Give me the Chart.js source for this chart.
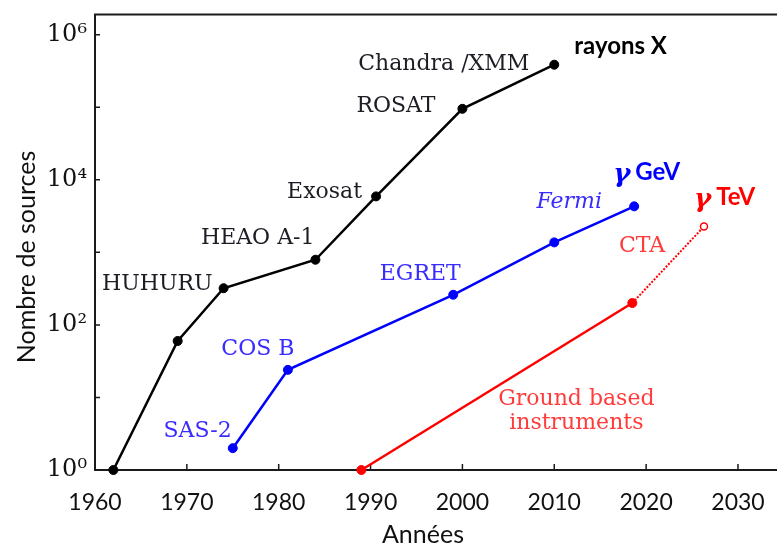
<!DOCTYPE html>
<html>
<head>
<meta charset="utf-8">
<script src="https://cdn.jsdelivr.net/npm/chart.js@4"></script>
<style>
	html, body { margin: 0; padding: 0; background: #fff; overflow: hidden; }
	#wrap { width: 800px; height: 544px; }
</style>
</head>
<body>
<div id="wrap"><canvas id="chart" width="800" height="544"></canvas></div>
<script>
// Nombre de sources connues par année (échelle log)
const xrayYears = [1962, 1969, 1974, 1984, 1990.6, 2000, 2010];
const xraySources = [1, 60, 320, 790, 5900, 95000, 385000];
const xrayNames = ["", "", "HUHURU", "HEAO A-1", "Exosat", "ROSAT", "Chandra /XMM"];

const gevYears = [1975, 1981, 1999, 2010, 2018.7];
const gevSources = [2, 24, 260, 1370, 4300];
const gevNames = ["SAS-2", "COS B", "EGRET", "Fermi", ""];

const tevYears = [1989, 2018.5, 2026.3];
const tevSources = [1, 200, 2270];
const tevNames = ["", "Ground based|instruments", "CTA"];

const seriesTitles = ["rayons X", "GeV", "TeV"];
const yearTicks = [1960, 1970, 1980, 1990, 2000, 2010, 2020, 2030];
const decadeTicks = [1, 10, 100, 1000, 10000, 100000, 1000000];

const SUP = { 0: "⁰", 2: "²", 4: "⁴", 6: "⁶" };
const SERIF = "'DejaVu Serif', 'Liberation Serif', serif";
const SANS = "Lato, 'Open Sans', sans-serif";

// label placement relative to each point: [dx, dy, align, italic]
const black = "#1d1d26";
const blueTxt = "#3a2cff";
const redTxt = "#ff3b3b";
const labelStyle = [
	[null, null, [-11, -4, "right"], [-1, -21, "right"], [-14, -4, "right"], [-27, -3, "right"], [-25, 0, "right"]],
	[[-1, -17, "right"], [-30, -21, "center"], [-33, -20, "center"], [15, -40, "center", true], null],
	[null, [-56, 96, "center"], [-62, 20, "center"]],
];
const labelColors = [black, blueTxt, redTxt];
const titleStyle = [
	[20, -18, "#000"],
	[-21, -34, "#0000ff"],
	[-10, -29, "#ff0000"],
];

const pts = (xs, ys) => xs.map((x, i) => ({ x, y: ys[i] }));

const frame = {
	id: "frame",
	beforeDatasetsDraw(chart) {
		const { ctx, chartArea: a, scales } = chart;
		ctx.save();
		ctx.strokeStyle = "#1a1a1a";
		ctx.lineWidth = 2;
		ctx.beginPath();
		ctx.moveTo(a.right + 5, a.top);
		ctx.lineTo(a.left, a.top);
		ctx.lineTo(a.left, a.bottom);
		ctx.lineTo(a.right + 5, a.bottom);
		ctx.stroke();
		ctx.lineWidth = 1.5;
		ctx.beginPath();
		decadeTicks.forEach((v) => {
			const py = scales.y.getPixelForValue(v);
			ctx.moveTo(a.left, py);
			ctx.lineTo(a.left + 5, py);
		});
		yearTicks.forEach((v) => {
			const px = scales.x.getPixelForValue(v);
			ctx.moveTo(px, a.bottom);
			ctx.lineTo(px, a.bottom - 6);
		});
		ctx.stroke();

		ctx.fillStyle = "#111";
		ctx.font = "25px " + SANS;
		ctx.textAlign = "center";
		ctx.textBaseline = "middle";
		ctx.fillText("Années", 423, 535);
		ctx.translate(27, 257);
		ctx.rotate(-Math.PI / 2);
		ctx.fillText("Nombre de sources", 0, 0);
		ctx.restore();
	},
	afterDatasetsDraw(chart) {
		const { ctx } = chart;
		ctx.save();
		ctx.textBaseline = "middle";
		chart.data.datasets.forEach((ds, di) => {
			const meta = chart.getDatasetMeta(di);
			ds.names.forEach((name, i) => {
				const st = labelStyle[di][i];
				if (!name || !st) return;
				const p = meta.data[i];
				ctx.fillStyle = labelColors[di];
				ctx.textAlign = st[2];
				ctx.font = (st[3] ? "italic " : "") + "22px " + SERIF;
				name.split("|").forEach((line, k) => {
					ctx.fillText(line, p.x + st[0], p.y + st[1] + k * 24);
				});
			});
			const last = meta.data[meta.data.length - 1];
			const [dx, dy, col] = titleStyle[di];
			ctx.fillStyle = col;
			ctx.textAlign = "left";
			let x0 = last.x + dx;
			if (di > 0) {
				ctx.font = "italic bold 26px " + SERIF;
				ctx.fillText("γ", x0, last.y + dy + 3);
				x0 += ctx.measureText("γ").width + 5;
			}
			ctx.font = "bold 24px " + SANS;
			ctx.fillText(seriesTitles[di], x0, last.y + dy);
		});
		ctx.restore();
	},
};

new Chart(document.getElementById("chart"), {
	type: "line",
	data: {
		datasets: [
			{
				data: pts(xrayYears, xraySources),
				names: xrayNames,
				borderColor: "#000",
				backgroundColor: "#000",
				pointBackgroundColor: "#000",
			},
			{
				data: pts(gevYears, gevSources),
				names: gevNames,
				borderColor: "#0000ff",
				backgroundColor: "#0000ff",
				pointBackgroundColor: "#0000ff",
			},
			{
				data: pts(tevYears, tevSources),
				names: tevNames,
				borderColor: "#ff0000",
				backgroundColor: "#ff0000",
				pointBackgroundColor: ["#ff0000", "#ff0000", "#fff"],
				pointRadius: [4.5, 4.5, 3.5],
				pointBorderWidth: [1, 1, 1.5],
				segment: {
					borderDash: (c) => (c.p1DataIndex === 2 ? [2, 1.5] : undefined),
					borderWidth: (c) => (c.p1DataIndex === 2 ? 2 : undefined),
				},
			},
		],
	},
	options: {
		responsive: false,
		animation: false,
		layout: { padding: { top: 12, left: 0, right: 0, bottom: 0 } },
		elements: {
			line: { borderWidth: 2.5, tension: 0 },
			point: { radius: 4.5, borderWidth: 1, hoverRadius: 4.5 },
		},
		datasets: { line: { clip: false } },
		plugins: { legend: { display: false }, tooltip: { enabled: false } },
		scales: {
			x: {
				type: "linear",
				min: 1960,
				max: 2036.1,
				grid: { display: false },
				border: { display: false },
				afterBuildTicks: (s) => { s.ticks = yearTicks.map((v) => ({ value: v })); },
				afterFit: (s) => { s.height = 74; },
				ticks: {
					padding: 11,
					color: "#111",
					font: { family: SANS, size: 23 },
					callback: (v) => String(v),
				},
			},
			y: {
				type: "logarithmic",
				min: 1,
				max: 1.9e6,
				grid: { display: false },
				border: { display: false },
				afterBuildTicks: (s) => { s.ticks = decadeTicks.map((v) => ({ value: v })); },
				afterFit: (s) => { s.width = 95; },
				ticks: {
					padding: 0,
					color: "#111",
					font: { family: SERIF, size: 24 },
					callback: (v) => {
						const e = Math.round(Math.log10(v));
						return e % 2 === 0 ? "10" + SUP[e] : "";
					},
				},
			},
		},
	},
	plugins: [frame],
});
</script>
</body>
</html>
